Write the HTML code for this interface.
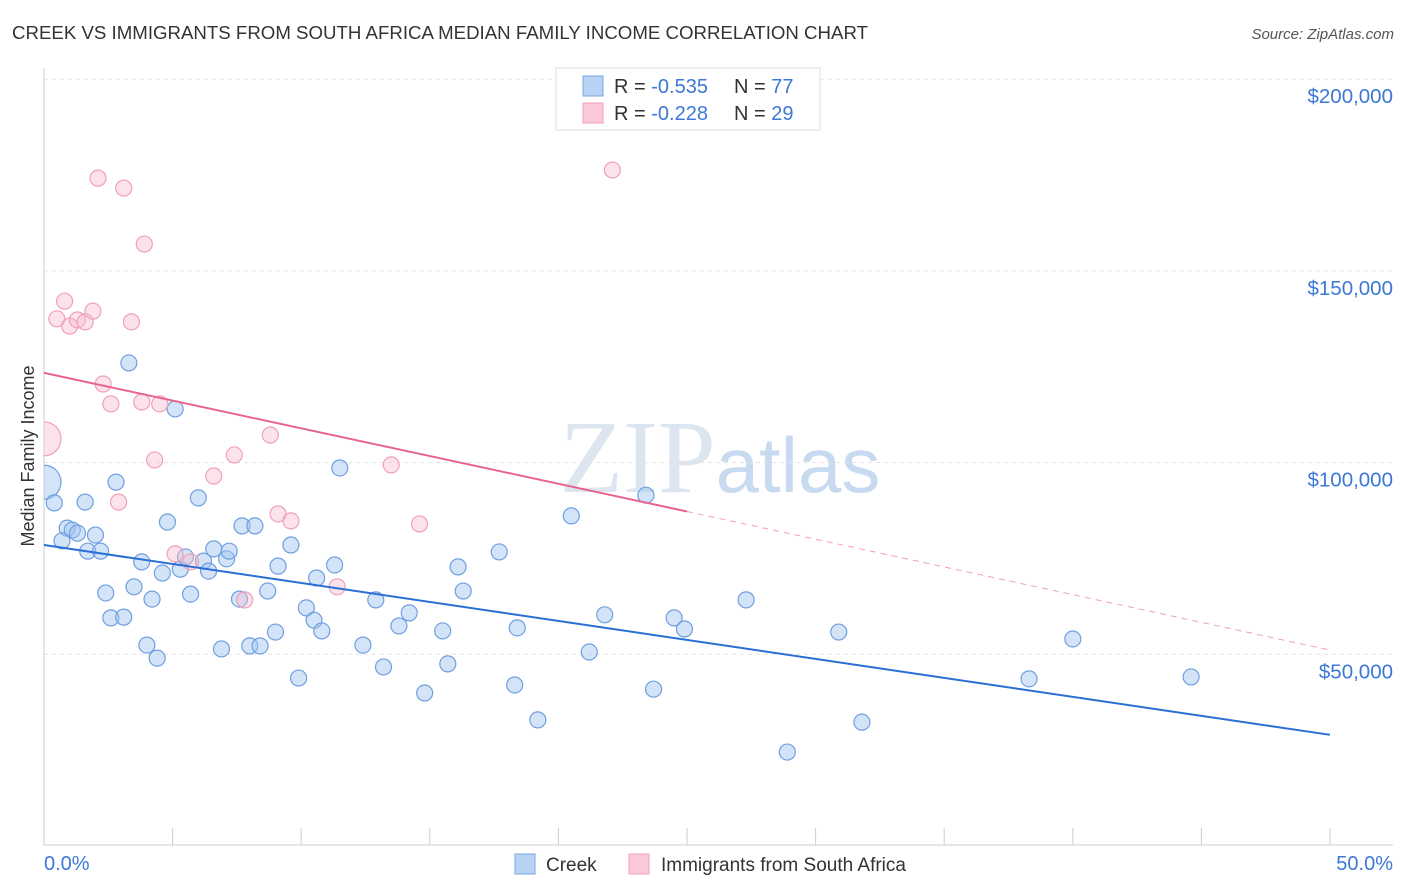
<!DOCTYPE html>
<html><head><meta charset="utf-8"><style>
body{margin:0;background:#fff;font-family:"Liberation Sans",sans-serif}
svg{display:block}
</style></head><body>
<svg id="chart" width="1406" height="892" xmlns="http://www.w3.org/2000/svg" font-family="Liberation Sans, sans-serif">
<defs><clipPath id="plotclip"><rect x="44" y="60" width="1360" height="786"/></clipPath></defs>
<text x="12" y="39" font-size="18" fill="#333" textLength="856" lengthAdjust="spacingAndGlyphs">CREEK VS IMMIGRANTS FROM SOUTH AFRICA MEDIAN FAMILY INCOME CORRELATION CHART</text>
<text x="1394" y="39" font-size="15" fill="#555" text-anchor="end" font-style="italic">Source: ZipAtlas.com</text>
<text x="720" y="492" font-size="104" fill="#dde6f0" text-anchor="middle" font-family="Liberation Serif, serif">ZIP<tspan fill="#c8daf0" font-family="Liberation Sans, sans-serif" font-size="78">atlas</tspan></text>
<g id="grid"></g>
<g id="axes"></g>
<g id="marks" clip-path="url(#plotclip)"></g>
<text transform="translate(34,456) rotate(-90)" font-size="18" fill="#333" text-anchor="middle">Median Family Income</text>
<text x="44" y="870" font-size="20" fill="#3b78d8">0.0%</text>
<text x="1393" y="870" font-size="20" fill="#3b78d8" text-anchor="end">50.0%</text>
<g>
<rect x="556" y="68" width="264" height="62" fill="#fff" stroke="#ddd"/>
<rect x="583" y="76" width="20" height="20" fill="#b8d2f4" stroke="#7aa7e0"/>
<rect x="583" y="103" width="20" height="20" fill="#fac8d6" stroke="#f0a0b8"/>
<text x="614" y="93" font-size="20" fill="#333">R = <tspan fill="#3b78d8">-0.535</tspan><tspan x="734">N = </tspan><tspan fill="#3b78d8">77</tspan></text>
<text x="614" y="120" font-size="20" fill="#333">R = <tspan fill="#3b78d8">-0.228</tspan><tspan x="734">N = </tspan><tspan fill="#3b78d8">29</tspan></text>
</g>
<g>
<rect x="515" y="854" width="20" height="20" fill="#b8d2f4" stroke="#7aa7e0"/>
<text x="546" y="871" font-size="19" fill="#333">Creek</text>
<rect x="629" y="854" width="20" height="20" fill="#fac8d6" stroke="#f0a0b8"/>
<text x="661" y="871" font-size="19" fill="#333">Immigrants from South Africa</text>
</g>
</svg>
<script>
const yTicks=[50000,100000,150000,200000];
const yTickLabels=["$50,000","$100,000","$150,000","$200,000"];
const creekX=[0,0.4,1.6,0.9,1.1,1.3,0.7,2.0,1.7,2.2,2.8,3.3,5.1,4.8,6.0,3.8,3.5,2.4,2.6,3.1,4.2,4.6,5.3,5.5,5.7,6.2,6.4,6.6,7.1,7.2,7.7,8.2,6.9,7.6,8.0,8.4,8.7,9.0,9.1,9.6,9.9,10.2,10.5,10.6,10.8,11.3,11.5,12.4,12.9,13.2,13.8,14.2,14.8,15.5,15.7,16.1,16.3,17.7,18.3,18.4,19.2,20.5,21.2,21.8,23.4,23.7,24.5,24.9,27.3,28.9,30.9,31.8,38.3,40.0,44.6,4.0,4.4];
const creekY=[94.9,89.5,89.7,82.9,82.4,81.6,79.6,81.1,76.9,76.9,94.9,126.0,114.0,84.5,90.8,74.1,67.6,66.0,59.5,59.7,64.4,71.2,72.2,75.4,65.7,74.3,71.7,77.5,74.9,76.9,83.5,83.5,51.4,64.4,52.2,52.2,66.5,55.8,73.0,78.5,43.8,62.1,58.9,69.9,56.1,73.3,98.6,52.4,64.2,46.7,57.4,60.8,39.9,56.1,47.5,72.8,66.5,76.7,42.0,56.9,32.9,86.1,50.6,60.3,91.5,40.9,59.5,56.6,64.2,24.5,55.8,32.3,43.6,54.0,44.1,52.4,49.0];
const saX=[0,0.5,0.8,1.0,1.3,1.6,1.9,2.1,3.1,3.9,3.4,2.3,2.6,2.9,3.8,4.5,4.3,5.1,5.7,6.6,7.4,7.8,8.8,9.1,9.6,11.4,13.5,14.6,22.1];
const saY=[106.2,137.5,142.1,135.6,137.2,136.7,139.5,174.2,171.6,157.0,136.7,120.5,115.3,89.7,115.8,115.3,100.7,76.2,74.1,96.5,102.0,64.2,107.2,86.6,84.8,67.6,99.4,84.0,176.3];
const creekTrend=[78.5,29.0];
const saTrend=[123.4,51.1];
const saSolidEnd=25.0;

const NS="http://www.w3.org/2000/svg";
const X0=44,X1=1330,YB=846,PPK=191.7/50;
const sx=v=>X0+(v/50)*(X1-X0);
const sy=k=>YB-k*PPK;
function mk(tag,attrs,parent){const e=document.createElementNS(NS,tag);for(const k in attrs)e.setAttribute(k,attrs[k]);parent.appendChild(e);return e;}
const grid=document.getElementById('grid'),axes=document.getElementById('axes'),marks=document.getElementById('marks');
yTicks.forEach((t,i)=>{
 const y=sy(t/1000);
 const l=mk('line',{x1:X0,x2:1393,y1:y,y2:y,stroke:'#e2e2e2','stroke-dasharray':'4,4'},grid);
 
 
 const tx=mk('text',{x:1393,y:y+24,'font-size':20.5,fill:'#3b78d8','text-anchor':'end'},grid);
 tx.textContent=yTickLabels[i];
 
 
});
const ax=mk('line',{x1:X0,x2:1393,y1:845,y2:845,stroke:'#ccc'},axes);


const ay=mk('line',{x1:X0,x2:X0,y1:68,y2:845,stroke:'#ccc'},axes);


for(let i=0;i<=10;i++){
 const x=sx(i*5);
 const t=mk('line',{x1:x,x2:x,y1:828,y2:845,stroke:'#ccc'},axes);
 
 
}
function dots(xs,ys,fill,stroke,name,bigIdx){
 xs.forEach((v,i)=>{
  const c=mk('circle',{cx:sx(v),cy:sy(ys[i]),r:i===bigIdx?17:8,fill:fill,stroke:stroke,'stroke-width':1.2},marks);
  
  
 });
}
dots(creekX,creekY,'rgba(160,196,240,0.45)','#6f9fe0','creek-point',0);
dots(saX,saY,'rgba(247,185,205,0.4)','#f0a0b8','south-africa-point',0);
const lb=mk('line',{x1:sx(0),y1:sy(creekTrend[0]),x2:sx(50),y2:sy(creekTrend[1]),stroke:'#2a6fd6','stroke-width':2},marks);


const saAt=v=>saTrend[0]+(saTrend[1]-saTrend[0])*v/50;
const lp=mk('line',{x1:sx(0),y1:sy(saTrend[0]),x2:sx(saSolidEnd),y2:sy(saAt(saSolidEnd)),stroke:'#e8648c','stroke-width':2},marks);


const ld=mk('line',{x1:sx(saSolidEnd),y1:sy(saAt(saSolidEnd)),x2:sx(50),y2:sy(saTrend[1]),stroke:'#f0a0b8','stroke-width':1,'stroke-dasharray':'6,5'},marks);


</script>
</body></html>
